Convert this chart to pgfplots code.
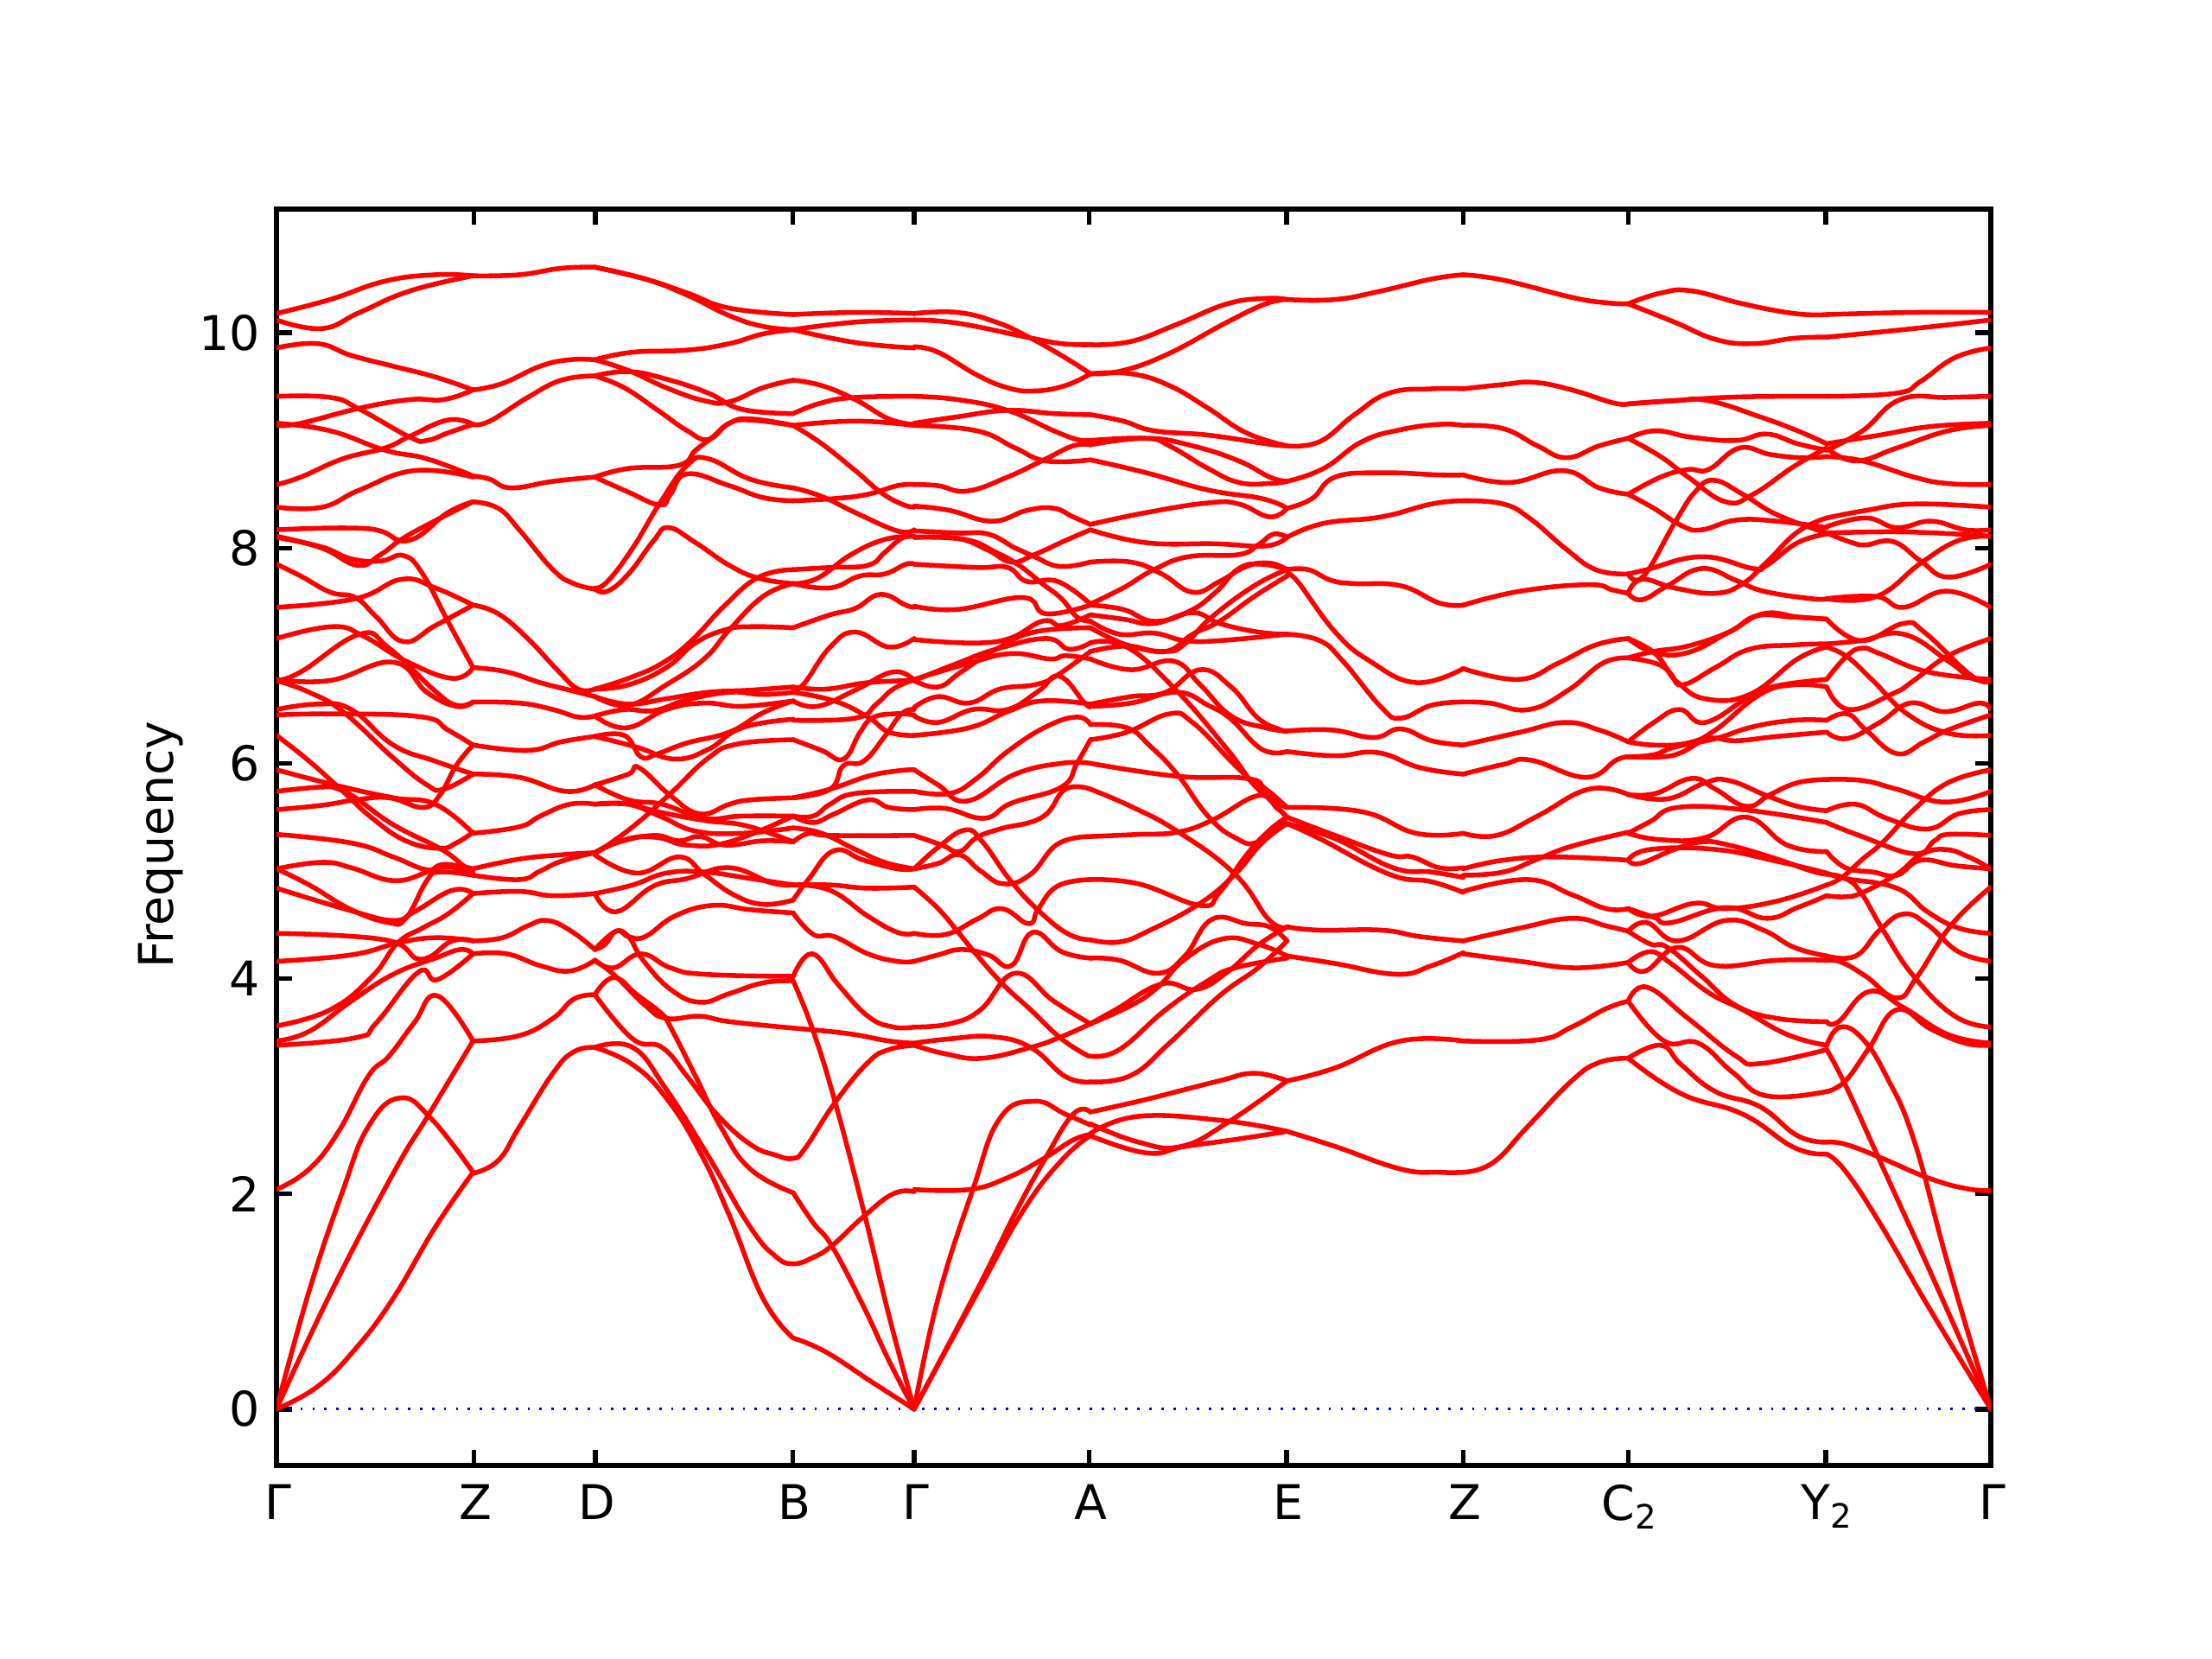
\documentclass[border=0pt]{standalone}
\usepackage{pgfplots}
\pgfplotsset{compat=1.18}
\usepackage{fontspec}
\setmainfont{DejaVu Sans}
\pgfplotsset{
 band/.style={red,line width=1pt,smooth,tension=0.75,no markers,line join=round,line cap=round},
 segA/.style={x filter/.expression={196+(x-22)*0.2977}},
 segB/.style={x filter/.expression={648+(x-38)*0.2732}},
 segC/.style={x filter/.expression={1154+(x-465)*0.2425}},
}
\newcommand{\A}[1]{\addplot[band,segA] coordinates {#1};}
\newcommand{\B}[1]{\addplot[band,segB] coordinates {#1};}
\newcommand{\C}[1]{\addplot[band,segC] coordinates {#1};}
\begin{document}
\begin{tikzpicture}
\useasboundingbox (0,0) rectangle (6.4in,4.8in);
\begin{axis}[
 at={(0.8in,0.56in)},anchor=south west,
 scale only axis,width=4.96in,height=3.635in,
 xmin=196,xmax=1411,ymin=-0.524,ymax=11.15,
 xtick={196,336,422,562,648,772,912,1037,1154,1294,1411},
 xticklabels={Γ,Z,D,B,Γ,A,E,Z,C\textsubscript{2},Y\textsubscript{2},Γ},
 ytick={0,2,4,6,8,10},
 tick align=inside,
 major tick length=3.2pt,
 tick style={black,line width=1pt},
 axis line style={black,line width=1pt},
 tick label style={font=\fontsize{10}{12}\selectfont},
 /pgf/number format/assume math mode=true,
 ylabel={Frequency},
 every axis y label/.style={at={(axis description cs:-0.0675,0.494)},rotate=90,anchor=center,font=\fontsize{10}{12}\selectfont},
 xticklabel style={yshift=-0.5pt,xshift=0.4pt},
]
\addplot[blue,line width=0.5pt,dotted,no markers] coordinates {(196,0)(1411,0)};
% Gamma - Z
\A{(22,10.18)(150,10.31)(280,10.48)(400,10.54)(490,10.53)}
\A{(22,10.12)(130,10.04)(220,10.19)(340,10.39)(490,10.53)}
\A{(22,9.86)(120,9.90)(200,9.79)(300,9.69)(400,9.59)(490,9.47)}
\A{(22,9.41)(150,9.40)(220,9.29)(340,9.03)(380,9.0)(430,9.07)(490,9.15)}
\A{(22,9.14)(80,9.16)(220,9.30)(340,9.38)(420,9.38)(490,9.47)}
\A{(22,9.16)(150,9.09)(280,8.91)(380,8.83)(490,8.67)}
\A{(22,8.59)(80,8.66)(180,8.83)(280,8.93)(340,9.04)(430,9.19)(490,9.15)}
\A{(22,8.38)(130,8.38)(220,8.54)(350,8.72)(490,8.66)}
\A{(22,8.17)(240,8.18)(335,8.07)(430,8.33)(490,8.43)}
\A{(22,8.11)(130,8.0)(215,7.84)(270,7.94)(340,8.13)(490,8.43)}
\A{(22,8.1)(130,8.01)(200,7.9)(270,7.88)(325,7.93)(370,7.76)(430,7.32)(490,6.89)}
\A{(22,7.85)(80,7.74)(150,7.59)(210,7.54)(260,7.36)(325,7.13)(400,7.28)(490,7.47)}
\A{(22,7.45)(210,7.53)(320,7.71)(400,7.63)(490,7.47)}
\A{(22,7.16)(155,7.27)(230,7.18)(330,6.95)(440,6.79)(490,6.89)}
\A{(22,6.77)(80,6.85)(220,7.2)(290,7.07)(400,6.67)(450,6.54)(490,6.57)}
\A{(22,6.78)(150,6.77)(300,6.94)(380,6.66)(450,6.53)(490,6.57)}
\A{(22,6.77)(100,6.66)(180,6.48)(300,6.05)(380,5.8)(420,5.76)(490,5.9)}
\A{(22,6.5)(120,6.55)(200,6.5)(300,6.17)(400,6.02)(490,5.9)}
\A{(22,6.45)(180,6.46)(370,6.43)(430,6.31)(490,6.17)}
\A{(22,6.26)(100,6.02)(180,5.74)(250,5.49)(330,5.28)(410,5.21)(450,5.26)(490,5.36)}
\A{(22,5.94)(170,5.79)(300,5.68)(400,5.62)(490,5.35)}
\A{(22,5.57)(130,5.61)(210,5.66)(290,5.68)(370,5.59)(410,5.7)(450,5.98)(490,6.17)}
\A{(22,5.74)(130,5.78)(170,5.76)(210,5.68)(300,5.43)(415,5.2)(470,5.04)(490,5.01)}
\A{(22,5.34)(200,5.26)(300,5.13)(380,5.01)(430,5.04)(490,4.98)}
\A{(22,5.02)(130,5.08)(200,5.03)(300,4.91)(380,4.99)(420,5.06)(490,5.02)}
\A{(22,5.02)(100,4.87)(200,4.64)(290,4.52)(330,4.56)(380,4.91)(410,4.99)(490,4.96)}
\A{(22,4.84)(200,4.63)(300,4.54)(350,4.62)(440,4.82)(490,4.79)}
\A{(22,4.42)(280,4.36)(365,4.18)(440,4.35)(490,4.35)}
\A{(22,4.16)(200,4.22)(310,4.33)(400,4.38)(490,4.35)}
\A{(22,3.56)(150,3.71)(250,4.02)(310,4.33)(370,4.47)(430,4.6)(490,4.79)}
\A{(22,3.42)(100,3.51)(200,3.79)(300,4.04)(400,4.19)(460,4.27)(490,4.23)}
\A{(22,3.38)(210,3.45)(260,3.59)(360,4.06)(405,3.99)(490,4.23)}
\A{(22,2.04)(100,2.23)(170,2.58)(240,3.09)(290,3.28)(350,3.59)(405,3.84)(490,3.42)}
\A{(22,0)(100,1.1)(180,2.03)(240,2.62)(315,2.89)(390,2.7)(490,2.2)}
\A{(22,0)(150,1.07)(300,2.19)(385,2.74)(490,3.42)}
\A{(22,0)(120,0.21)(210,0.56)(300,1.03)(400,1.69)(490,2.2)}
% Z - D
\A{(490,10.53)(600,10.54)(700,10.6)(780,10.61)}
\A{(490,9.47)(560,9.53)(650,9.69)(720,9.75)(780,9.75)}
\A{(490,9.15)(530,9.18)(620,9.4)(700,9.56)(780,9.6)}
\A{(490,8.67)(530,8.64)(580,8.56)(680,8.62)(780,8.66)}
\A{(490,8.43)(550,8.37)(600,8.17)(680,7.8)(730,7.67)(780,7.62)}
\A{(490,7.47)(550,7.39)(620,7.16)(690,6.87)(740,6.69)(780,6.69)}
\A{(490,6.89)(570,6.85)(650,6.75)(720,6.68)(780,6.62)}
\A{(490,6.57)(600,6.56)(680,6.5)(740,6.43)(780,6.44)}
\A{(490,6.17)(620,6.12)(700,6.2)(780,6.25)}
\A{(490,5.9)(600,5.87)(710,5.74)(780,5.8)}
\A{(490,5.35)(600,5.41)(650,5.51)(720,5.62)(780,5.62)}
\A{(490,5.02)(600,5.11)(700,5.15)(780,5.17)}
\A{(490,4.96)(600,4.92)(650,5.0)(700,5.09)(780,5.17)}
\A{(490,4.79)(600,4.81)(680,4.77)(780,4.79)}
\A{(490,4.35)(560,4.38)(620,4.49)(665,4.54)(720,4.45)(780,4.27)}
\A{(490,4.23)(570,4.23)(650,4.12)(720,4.07)(780,4.17)}
\A{(490,3.42)(600,3.47)(680,3.63)(730,3.81)(780,3.85)}
\A{(490,2.19)(550,2.31)(600,2.62)(680,3.12)(730,3.32)(780,3.36)}
% D - B
\A{(780,10.61)(900,10.5)(1000,10.37)(1100,10.23)(1252,10.17)}
\A{(780,10.61)(900,10.5)(1000,10.35)(1100,10.16)(1180,10.06)(1252,10.03)}
\A{(780,9.75)(870,9.82)(1000,9.84)(1100,9.9)(1180,9.99)(1252,10.03)}
\A{(780,9.75)(860,9.65)(950,9.49)(1040,9.37)(1100,9.36)(1180,9.49)(1252,9.56)}
\A{(780,9.6)(860,9.64)(950,9.57)(1050,9.44)(1130,9.29)(1252,9.25)}
\A{(780,9.6)(850,9.49)(930,9.28)(1000,9.09)(1050,9.01)(1100,9.16)(1150,9.2)(1252,9.14)}
\A{(780,8.66)(860,8.74)(980,8.77)(1020,8.91)(1060,9.03)(1100,9.16)(1150,9.19)(1252,9.14)}
\A{(780,8.66)(860,8.52)(935,8.4)(960,8.5)(1000,8.69)(1100,8.58)(1180,8.47)(1252,8.44)}
\A{(780,7.63)(810,7.69)(870,8.0)(935,8.42)(1000,8.77)(1050,8.83)(1150,8.64)(1252,8.56)}
\A{(780,7.62)(810,7.6)(860,7.76)(920,8.07)(955,8.19)(1020,8.05)(1100,7.84)(1170,7.72)(1252,7.67)}
\A{(780,6.69)(860,6.79)(940,6.93)(1010,7.14)(1090,7.47)(1170,7.73)(1252,7.8)}
\A{(780,6.69)(860,6.73)(950,6.89)(1020,7.12)(1090,7.24)(1150,7.27)(1252,7.26)}
\A{(780,6.62)(860,6.54)(950,6.73)(1040,6.97)(1100,7.24)(1180,7.55)(1252,7.67)}
\A{(780,6.62)(860,6.55)(950,6.6)(1050,6.66)(1150,6.68)(1252,6.71)}
\A{(780,6.44)(850,6.5)(920,6.49)(1000,6.59)(1100,6.66)(1180,6.64)(1252,6.66)}
\A{(780,6.44)(855,6.33)(950,6.5)(1040,6.56)(1130,6.53)(1252,6.58)}
\A{(780,6.25)(850,6.26)(890,6.06)(930,6.09)(1000,6.19)(1100,6.29)(1180,6.47)(1252,6.58)}
\A{(780,6.25)(880,6.15)(970,6.04)(1050,6.13)(1130,6.33)(1252,6.41)}
\A{(780,5.8)(860,5.9)(885,5.96)(960,5.7)(1030,5.53)(1100,5.62)(1150,5.66)(1252,5.68)}
\A{(780,5.8)(860,5.66)(940,5.62)(1040,5.49)(1130,5.51)(1252,5.51)}
\A{(780,5.62)(860,5.62)(930,5.55)(1040,5.47)(1140,5.42)(1252,5.27)}
\A{(780,5.62)(860,5.62)(940,5.5)(1020,5.37)(1130,5.35)(1252,5.4)}
\A{(780,5.16)(870,5.41)(960,5.72)(1050,6.05)(1120,6.18)(1252,6.22)}
\A{(780,5.17)(830,5.26)(920,5.33)(980,5.28)(1030,5.32)(1090,5.24)(1180,5.28)(1252,5.27)}
\A{(780,5.15)(880,4.98)(980,5.13)(1040,4.97)(1110,4.78)(1180,4.69)(1252,4.73)}
\A{(780,5.17)(860,5.3)(930,5.31)(1000,5.24)(1100,5.27)(1252,5.51)}
\A{(780,4.79)(830,4.62)(920,4.86)(1000,4.93)(1100,5.03)(1200,4.89)(1252,4.87)}
\A{(780,4.79)(870,4.87)(950,4.98)(1040,4.99)(1150,4.93)(1252,4.87)}
\A{(780,4.27)(830,4.44)(860,4.39)(900,4.39)(970,4.58)(1060,4.68)(1150,4.64)(1252,4.61)}
\A{(780,4.27)(805,4.32)(830,4.44)(860,4.39)(895,4.17)(960,3.9)(1030,3.78)(1100,3.86)(1180,3.96)(1252,3.98)}
\A{(780,4.17)(825,4.1)(890,4.23)(960,4.1)(1040,4.04)(1252,4.02)}
\A{(780,4.17)(830,4.02)(900,3.75)(950,3.63)(1030,3.65)(1100,3.6)(1252,3.54)}
\A{(780,3.85)(825,4.01)(880,3.85)(940,3.67)(960,3.55)(1020,3.09)(1080,2.62)(1150,2.23)(1252,2.01)}
\A{(780,3.85)(870,3.44)(940,3.36)(1000,3.09)(1070,2.74)(1150,2.46)(1210,2.36)(1252,2.33)(1280,2.42)(1352,2.85)(1430,3.22)(1480,3.34)(1540,3.38)}
\A{(780,3.36)(870,3.36)(950,2.97)(1050,2.35)(1150,1.69)(1210,1.42)(1252,1.35)(1300,1.41)(1345,1.52)(1420,1.79)(1490,2.0)(1540,2.02)}
\A{(780,3.36)(870,3.2)(950,2.89)(1030,2.39)(1100,1.8)(1180,1.03)(1252,0.66)}
% B - Gamma
\A{(1252,10.17)(1400,10.19)(1540,10.18)}
\A{(1252,10.03)(1400,10.1)(1540,10.12)}
\A{(1252,10.03)(1400,9.91)(1540,9.86)}
\A{(1252,9.56)(1320,9.51)(1400,9.38)(1480,9.2)(1540,9.15)}
\A{(1252,9.25)(1320,9.35)(1400,9.4)(1540,9.41)}
\A{(1252,9.14)(1400,9.18)(1540,9.14)}
\A{(1252,9.14)(1320,8.97)(1400,8.72)(1460,8.52)(1510,8.41)(1540,8.38)}
\A{(1252,8.56)(1320,8.48)(1400,8.33)(1500,8.16)(1540,8.17)}
\A{(1252,8.44)(1350,8.46)(1430,8.5)(1500,8.58)(1540,8.59)}
\A{(1252,7.8)(1340,7.82)(1430,7.84)(1470,7.96)(1510,8.09)(1540,8.11)}
\A{(1252,7.67)(1310,7.72)(1390,7.94)(1470,8.08)(1540,8.11)}
\A{(1252,7.67)(1340,7.63)(1410,7.74)(1470,7.76)(1520,7.85)(1540,7.85)}
\A{(1252,7.26)(1340,7.38)(1400,7.44)(1460,7.57)(1520,7.47)(1540,7.45)}
\A{(1252,6.67)(1280,6.75)(1340,7.08)(1400,7.22)(1480,7.08)(1540,7.16)}
\A{(1252,6.71)(1330,6.69)(1430,6.75)(1540,6.77)}
\A{(1252,6.58)(1310,6.53)(1400,6.68)(1490,6.85)(1540,6.77)}
\A{(1252,6.66)(1350,6.58)(1430,6.43)(1480,6.29)(1540,6.26)}
\A{(1252,6.4)(1400,6.42)(1450,6.55)(1490,6.69)(1540,6.78)}
\A{(1252,6.22)(1320,6.12)(1372,6.04)(1410,6.28)(1440,6.42)(1490,6.46)(1540,6.45)}
\A{(1252,5.68)(1340,5.76)(1372,5.98)(1420,6.02)(1470,6.25)(1510,6.46)(1540,6.5)}
\A{(1252,5.68)(1340,5.76)(1430,5.88)(1500,5.93)(1540,5.94)}
\A{(1252,5.51)(1300,5.51)(1340,5.62)(1400,5.72)(1540,5.74)}
\A{(1252,5.51)(1300,5.45)(1350,5.53)(1430,5.66)(1480,5.59)(1540,5.57)}
\A{(1252,5.27)(1290,5.35)(1340,5.33)(1540,5.33)}
\A{(1252,5.4)(1320,5.35)(1400,5.2)(1470,5.08)(1540,5.02)}
\A{(1252,4.73)(1290,4.93)(1350,5.19)(1420,5.1)(1500,5.02)(1540,5.02)}
\A{(1252,4.87)(1340,4.87)(1430,4.84)(1540,4.85)}
\A{(1252,4.61)(1300,4.41)(1350,4.39)(1430,4.23)(1500,4.16)(1540,4.16)}
\A{(1252,4.87)(1340,4.82)(1430,4.58)(1500,4.43)(1540,4.42)}
\A{(1252,4.02)(1298,4.23)(1360,3.94)(1430,3.65)(1490,3.55)(1540,3.55)}
\A{(1252,3.98)(1300,3.51)(1352,2.85)(1420,1.84)(1480,0.87)(1540,0)}
\A{(1252,3.54)(1380,3.49)(1480,3.42)(1540,3.4)}
\A{(1252,2.01)(1300,1.73)(1345,1.51)(1420,0.95)(1480,0.45)(1540,0)}
\A{(1252,0.66)(1330,0.53)(1440,0.25)(1540,0)}
% Gamma - A
\B{(38,10.18)(150,10.19)(250,10.1)(330,9.97)(420,9.79)(495,9.62)}
\B{(38,10.12)(150,10.09)(330,9.96)(420,9.9)(495,9.89)}
\B{(38,9.87)(100,9.82)(200,9.61)(280,9.49)(350,9.46)(430,9.51)(495,9.62)}
\B{(38,9.41)(150,9.38)(280,9.28)(400,9.09)(460,9.01)(495,9)}
\B{(38,9.16)(150,9.22)(280,9.28)(400,9.25)(495,9.24)}
\B{(38,9.14)(200,9.09)(300,8.93)(380,8.81)(495,8.82)}
\B{(38,8.59)(100,8.58)(175,8.53)(280,8.66)(380,8.83)(450,8.95)(495,8.96)}
\B{(38,8.39)(130,8.35)(240,8.25)(330,8.35)(400,8.37)(450,8.29)(495,8.22)}
\B{(38,8.16)(150,8.14)(230,8.13)(300,8.0)(350,7.92)(415,7.83)(495,7.87)}
\B{(38,8.1)(150,8.09)(230,7.98)(290,7.87)(350,7.94)(430,8.07)(495,8.17)}
\B{(38,8.1)(170,8.08)(250,7.96)(310,7.84)(370,7.67)(420,7.53)(460,7.36)(495,7.32)}
\B{(38,7.85)(200,7.82)(280,7.82)(330,7.69)(410,7.69)(495,7.48)}
\B{(38,7.46)(150,7.43)(320,7.54)(380,7.39)(495,7.47)}
\B{(38,7.15)(250,7.13)(370,7.32)(420,7.28)(495,7.38)}
\B{(38,6.77)(100,6.71)(160,6.85)(250,7.06)(350,7.22)(495,7.26)}
\B{(38,6.77)(150,6.93)(250,7.06)(380,7.16)(440,7.06)(495,7.12)}
\B{(38,6.78)(180,6.93)(290,7.02)(390,6.97)(430,7.0)(495,6.97)}
\B{(38,6.52)(100,6.62)(180,6.56)(260,6.69)(350,6.73)(405,6.81)(495,7.04)}
\B{(38,6.44)(100,6.38)(190,6.5)(280,6.5)(360,6.67)(415,6.81)(480,6.56)(495,6.53)}
\B{(38,6.26)(180,6.33)(280,6.48)(370,6.58)(495,6.55)}
\B{(38,5.94)(100,5.8)(175,5.65)(300,5.9)(420,6.0)(495,6.0)}
\B{(38,5.74)(130,5.72)(200,5.86)(280,6.11)(380,6.34)(460,6.43)(495,6.36)}
\B{(38,5.57)(120,5.58)(220,5.49)(290,5.63)(420,5.78)(460,6.0)(495,6.22)}
\B{(38,5.33)(110,5.24)(155,5.18)(200,5.31)(260,5.39)(370,5.5)(430,5.76)(495,5.76)}
\B{(38,5.02)(100,5.22)(170,5.38)(215,5.27)(290,4.9)(370,4.6)(440,4.41)(495,4.36)}
\B{(38,5.02)(100,5.07)(155,5.15)(210,5.0)(270,4.88)(340,4.97)(410,5.25)(495,5.32)}
\B{(38,4.85)(100,4.65)(150,4.44)(200,4.22)(270,3.94)(340,3.71)(420,3.44)(490,3.28)}
\B{(38,4.42)(120,4.41)(200,4.55)(265,4.65)(335,4.51)(360,4.65)(410,4.86)(495,4.92)}
\B{(38,4.16)(100,4.22)(160,4.27)(230,4.22)(290,4.12)(345,4.43)(420,4.25)(495,4.19)}
\B{(38,3.55)(130,3.58)(210,3.71)(300,4.05)(400,3.79)(495,3.58)}
\B{(38,3.4)(130,3.44)(240,3.46)(340,3.36)(430,3.09)(495,3.04)}
\B{(38,3.38)(120,3.3)(215,3.26)(340,3.36)(420,3.46)(495,3.58)}
\B{(38,2.04)(180,2.04)(280,2.15)(375,2.33)(450,2.5)(495,2.55)}
\B{(38,0)(100,1.03)(190,2.04)(260,2.7)(350,2.86)(430,2.74)(495,2.64)}
\B{(38,0)(200,1.1)(300,1.82)(375,2.31)(450,2.74)(495,2.76)}
\B{(38,0)(200,1.07)(320,1.84)(420,2.31)(495,2.54)}
% A - E
\B{(495,9.89)(600,9.92)(720,10.08)(850,10.27)(950,10.32)(1005,10.31)}
\B{(495,9.62)(580,9.65)(700,9.81)(850,10.1)(950,10.27)(1005,10.31)}
\B{(495,9.62)(600,9.62)(700,9.51)(800,9.3)(900,9.07)(1005,8.95)}
\B{(495,9.24)(580,9.18)(660,9.09)(800,9.05)(950,8.97)(1005,8.95)}
\B{(495,9)(640,9.02)(700,8.95)(800,8.74)(880,8.61)(960,8.6)(1005,8.62)}
\B{(495,8.96)(640,9.02)(760,8.95)(880,8.81)(960,8.66)(1005,8.62)}
\B{(495,8.82)(640,8.7)(800,8.54)(940,8.46)(1005,8.37)}
\B{(495,8.22)(640,8.33)(800,8.42)(880,8.41)(960,8.29)(1005,8.37)}
\B{(495,8.17)(640,8.05)(820,8.04)(950,8.02)(1005,8.1)}
\B{(495,7.87)(600,7.87)(680,7.76)(760,7.59)(830,7.69)(900,7.83)(960,7.86)(1005,7.8)}
\B{(495,7.48)(580,7.63)(660,7.8)(750,7.92)(880,7.94)(930,8.03)(970,8.13)(1005,8.1)}
\B{(495,7.47)(580,7.43)(660,7.32)(750,7.41)(820,7.59)(880,7.81)(940,7.85)(1005,7.8)}
\B{(495,7.38)(580,7.34)(660,7.3)(760,7.4)(830,7.3)(930,7.22)(1005,7.2)}
\B{(495,7.32)(570,7.2)(660,7.21)(740,7.14)(830,7.14)(1005,7.2)}
\B{(495,7.26)(590,7.1)(690,7.04)(740,7.11)(810,7.36)(920,7.65)(1005,7.8)}
\B{(495,7.12)(590,7.08)(720,6.67)(850,6.13)(930,5.76)(1005,5.59)}
\B{(495,7.04)(590,7.09)(690,7.04)(760,7.2)(830,7.32)(920,7.55)(1005,7.74)}
\B{(495,6.97)(600,6.87)(710,6.95)(780,6.73)(860,6.44)(950,6.33)(1005,6.3)}
\B{(495,6.55)(600,6.62)(690,6.66)(780,6.87)(860,6.71)(930,6.42)(990,6.31)(1005,6.3)}
\B{(495,6.53)(600,6.56)(720,6.66)(800,6.54)(860,6.41)(940,6.13)(1005,6.11)}
\B{(495,6.36)(590,6.33)(650,6.16)(720,5.9)(800,5.51)(870,5.31)(930,5.27)(1005,5.5)}
\B{(495,6.22)(590,6.29)(700,6.46)(760,6.38)(860,6.02)(950,5.7)(1005,5.5)}
\B{(495,6)(720,5.88)(900,5.86)(950,5.76)(1005,5.59)}
\B{(495,5.76)(600,5.6)(720,5.37)(870,4.97)(960,4.54)(1010,4.48)}
\B{(495,5.32)(620,5.34)(720,5.36)(810,5.47)(930,5.7)(980,5.58)(1005,5.5)}
\B{(495,4.92)(620,4.88)(780,4.68)(830,4.8)(900,5.15)(960,5.38)(1005,5.5)}
\B{(495,4.36)(570,4.34)(650,4.45)(780,4.7)(870,4.97)(940,5.26)(1005,5.44)}
\B{(495,4.19)(570,4.17)(670,4.05)(740,4.21)(810,4.55)(900,4.51)(960,4.48)(1005,4.35)}
\B{(495,3.58)(560,3.71)(680,3.95)(770,3.9)(850,4.06)(930,4.31)(1005,4.48)}
\B{(495,3.58)(600,3.75)(670,3.92)(740,4.18)(840,4.37)(930,4.32)(1005,4.21)}
\B{(495,3.28)(570,3.34)(690,3.71)(800,3.98)(870,4.1)(1005,4.19)}
\B{(495,3.04)(600,3.1)(700,3.4)(830,3.84)(930,4.1)(1005,4.35)}
\B{(495,2.76)(620,2.86)(720,2.95)(830,3.05)(920,3.12)(1005,3.05)}
\B{(495,2.65)(620,2.48)(730,2.44)(850,2.66)(1005,3.05)}
\B{(495,2.56)(620,2.72)(840,2.68)(1005,2.58)}
\B{(495,2.54)(640,2.38)(740,2.44)(880,2.51)(1005,2.58)}
% E - Z
\B{(1005,10.31)(1130,10.31)(1250,10.39)(1380,10.5)(1462,10.54)}
\B{(1005,8.95)(1090,8.99)(1180,9.24)(1270,9.44)(1380,9.48)(1462,9.48)}
\B{(1005,8.62)(1100,8.74)(1200,8.99)(1300,9.1)(1400,9.15)(1462,9.14)}
\B{(1005,8.37)(1070,8.46)(1130,8.66)(1250,8.7)(1400,8.68)(1462,8.68)}
\B{(1005,8.1)(1100,8.23)(1250,8.29)(1380,8.41)(1462,8.44)}
\B{(1005,7.8)(1060,7.8)(1120,7.7)(1180,7.67)(1300,7.65)(1400,7.49)(1462,7.47)}
\B{(1005,7.74)(1030,7.7)(1130,7.22)(1220,6.95)(1340,6.75)(1462,6.88)}
\B{(1005,7.2)(1090,7.14)(1150,6.95)(1250,6.52)(1300,6.42)(1380,6.54)(1462,6.57)}
\B{(1005,6.3)(1120,6.31)(1230,6.24)(1300,6.32)(1380,6.21)(1462,6.17)}
\B{(1005,6.11)(1130,6.07)(1240,6.1)(1350,5.96)(1462,5.9)}
\B{(1005,5.59)(1200,5.55)(1340,5.35)(1462,5.35)}
\B{(1005,5.5)(1130,5.33)(1270,5.15)(1330,5.13)(1400,5.03)(1462,5.03)}
\B{(1005,5.44)(1130,5.3)(1280,5.03)(1380,4.99)(1462,4.94)}
\B{(1005,5.44)(1090,5.3)(1270,4.97)(1380,4.9)(1462,4.8)}
\B{(1005,4.48)(1090,4.45)(1250,4.45)(1350,4.39)(1462,4.35)}
\B{(1005,4.21)(1130,4.14)(1290,4.04)(1380,4.12)(1462,4.24)}
\B{(1005,3.05)(1130,3.17)(1300,3.42)(1462,3.42)}
\B{(1005,2.58)(1130,2.44)(1300,2.23)(1400,2.2)(1462,2.2)}
% Z - C2
\C{(-17,10.54)(100,10.49)(300,10.33)(400,10.28)(465,10.27)}
\C{(-17,9.48)(100,9.52)(190,9.54)(300,9.47)(420,9.35)(465,9.34)}
\C{(-17,9.14)(100,9.11)(200,8.95)(285,8.84)(380,8.95)(465,9.02)}
\C{(-17,8.68)(120,8.61)(275,8.72)(380,8.56)(465,8.5)}
\C{(-17,8.44)(100,8.41)(180,8.27)(280,8.0)(370,7.8)(465,7.76)}
\C{(-17,7.47)(150,7.6)(350,7.66)(420,7.61)(465,7.58)}
\C{(-17,6.88)(145,6.78)(260,6.93)(370,7.1)(465,7.16)}
\C{(-17,6.57)(60,6.56)(175,6.5)(290,6.68)(390,6.93)(465,6.98)}
\C{(-17,6.17)(150,6.29)(280,6.38)(380,6.31)(465,6.2)}
\C{(-17,5.9)(100,5.99)(180,6.03)(340,5.87)(430,6.03)(465,6.06)}
\C{(-17,5.35)(80,5.33)(200,5.51)(350,5.76)(465,5.71)}
\C{(-17,5.02)(100,5.1)(250,5.13)(465,5.1)}
\C{(-17,4.96)(100,4.99)(200,5.11)(300,5.23)(465,5.36)}
\C{(-17,4.81)(170,4.92)(300,4.78)(400,4.65)(465,4.65)}
\C{(-17,4.35)(150,4.47)(300,4.56)(400,4.49)(465,4.44)}
\C{(-17,4.23)(150,4.16)(310,4.1)(465,4.15)}
\C{(-17,3.42)(200,3.43)(300,3.55)(400,3.72)(465,3.79)}
\C{(-17,2.2)(70,2.29)(170,2.62)(300,3.05)(380,3.22)(465,3.26)}
% C2 - Y2
\C{(465,10.27)(560,10.37)(650,10.39)(800,10.27)(950,10.18)(1045,10.17)}
\C{(465,10.27)(600,10.1)(720,9.94)(830,9.9)(950,9.95)(1045,9.96)}
\C{(465,9.34)(600,9.37)(750,9.4)(900,9.41)(1045,9.41)}
\C{(465,9.34)(600,9.37)(700,9.37)(850,9.22)(960,9.09)(1045,8.97)}
\C{(465,9.02)(545,9.09)(650,9.03)(780,9)(870,9.06)(960,8.97)(1045,8.91)}
\C{(465,9.02)(560,8.85)(640,8.66)(750,8.43)(830,8.5)(950,8.76)(1045,8.93)}
\C{(465,8.5)(560,8.66)(640,8.73)(700,8.73)(790,8.93)(880,8.87)(970,8.84)(1045,8.85)}
\C{(465,8.5)(540,8.37)(620,8.21)(680,8.17)(780,8.26)(900,8.25)(1045,8.19)}
\C{(465,7.76)(520,7.8)(680,7.92)(830,7.81)(870,7.84)(960,8.05)(1045,8.13)}
\C{(465,7.76)(510,7.74)(600,8.23)(660,8.52)(715,8.63)(800,8.5)(900,8.31)(1045,8.14)}
\C{(465,7.58)(505,7.71)(600,7.63)(720,7.58)(800,7.67)(870,7.87)(960,8.15)(1045,8.28)}
\C{(465,7.58)(505,7.52)(580,7.65)(680,7.81)(780,7.7)(860,7.6)(1000,7.53)(1045,7.53)}
\C{(465,7.16)(540,7.03)(590,6.83)(625,6.73)(720,6.89)(820,7.06)(950,7.1)(1045,7.11)}
\C{(465,7.16)(540,7.03)(640,7.03)(760,7.22)(860,7.39)(960,7.36)(1045,7.34)}
\C{(465,6.98)(540,7.04)(640,7.09)(760,7.22)(840,7.37)(940,7.36)(1045,7.34)}
\C{(465,6.98)(560,6.91)(610,6.75)(690,6.6)(820,6.64)(960,6.97)(1045,7.08)}
\C{(465,6.2)(540,6.38)(615,6.5)(690,6.38)(820,6.62)(900,6.72)(1045,6.78)}
\C{(465,6.2)(540,6.17)(640,6.19)(720,6.31)(850,6.64)(950,6.73)(1045,6.71)}
\C{(465,6.06)(560,6.06)(620,6.1)(700,6.23)(780,6.21)(900,6.25)(1045,6.29)}
\C{(465,6.06)(540,6.08)(600,6.15)(720,6.23)(830,6.34)(950,6.4)(1045,6.4)}
\C{(465,5.71)(580,5.67)(690,5.82)(760,5.84)(870,5.7)(960,5.6)(1045,5.56)}
\C{(465,5.71)(545,5.72)(650,5.86)(720,5.76)(810,5.6)(880,5.71)(960,5.82)(1045,5.85)}
\C{(465,5.35)(530,5.46)(610,5.59)(800,5.57)(1045,5.45)}
\C{(465,5.35)(560,5.29)(690,5.31)(810,5.5)(930,5.24)(1045,5.18)}
\C{(465,5.1)(530,5.2)(720,5.2)(900,5.09)(1045,4.98)}
\C{(465,5.1)(500,5.07)(600,5.2)(680,5.27)(760,5.24)(900,5.11)(1000,5.0)(1045,4.97)}
\C{(465,4.65)(540,4.57)(590,4.52)(750,4.66)(870,4.56)(960,4.66)(1045,4.77)}
\C{(465,4.65)(535,4.58)(660,4.7)(750,4.65)(900,4.72)(1045,4.87)}
\C{(465,4.44)(520,4.52)(610,4.35)(750,4.54)(860,4.45)(950,4.29)(1045,4.21)}
\C{(465,4.44)(530,4.32)(580,4.29)(680,4.02)(780,3.75)(900,3.63)(1045,3.6)}
\C{(465,4.15)(530,4.25)(590,4.14)(700,3.87)(800,3.71)(930,3.48)(1045,3.38)}
\C{(465,4.15)(515,4.07)(610,4.29)(720,4.12)(900,4.17)(1045,4.17)}
\C{(465,3.79)(520,3.92)(640,3.63)(780,3.28)(850,3.21)(1045,3.34)}
\C{(465,3.79)(570,3.42)(670,3.4)(770,3.13)(870,2.91)(1045,2.95)}
\C{(465,3.26)(560,3.38)(620,3.2)(720,2.95)(850,2.81)(960,2.54)(1045,2.48)}
\C{(465,3.26)(620,2.93)(800,2.74)(950,2.43)(1045,2.37)}
% Y2 - Gamma
\C{(1045,10.17)(1300,10.19)(1525,10.19)}
\C{(1045,9.96)(1300,10.04)(1525,10.12)}
\C{(1045,9.41)(1250,9.44)(1320,9.55)(1420,9.77)(1525,9.86)}
\C{(1045,8.91)(1150,9.09)(1260,9.38)(1400,9.4)(1525,9.41)}
\C{(1045,8.97)(1200,9.05)(1350,9.13)(1525,9.16)}
\C{(1045,8.93)(1130,8.81)(1250,8.93)(1400,9.09)(1525,9.14)}
\C{(1045,8.85)(1150,8.81)(1300,8.66)(1400,8.6)(1525,8.59)}
\C{(1045,8.28)(1160,8.35)(1300,8.41)(1525,8.38)}
\C{(1045,8.2)(1160,8.28)(1250,8.19)(1350,8.25)(1450,8.17)(1525,8.17)}
\C{(1045,8.14)(1120,8.05)(1160,8.03)(1240,8.06)(1320,7.88)(1400,7.73)(1525,7.85)}
\C{(1045,8.14)(1280,8.15)(1525,8.11)}
\C{(1045,7.53)(1190,7.55)(1320,7.86)(1430,8.07)(1525,8.11)}
\C{(1045,7.53)(1190,7.55)(1270,7.45)(1395,7.6)(1525,7.45)}
\C{(1045,7.34)(1145,7.14)(1270,7.3)(1330,7.22)(1470,6.81)(1525,6.77)}
\C{(1045,7.11)(1145,7.14)(1270,7.2)(1400,6.95)(1470,6.79)(1525,6.77)}
\C{(1045,7.08)(1105,6.99)(1180,6.77)(1280,6.46)(1400,6.28)(1525,6.26)}
\C{(1045,6.78)(1105,7.0)(1150,7.07)(1200,7.02)(1340,6.85)(1525,6.78)}
\C{(1045,6.71)(1110,6.5)(1240,6.65)(1300,6.77)(1400,7.0)(1525,7.16)}
\C{(1045,6.4)(1105,6.46)(1160,6.31)(1250,6.09)(1330,6.2)(1400,6.31)(1525,6.45)}
\C{(1045,6.29)(1105,6.23)(1200,6.38)(1290,6.56)(1390,6.48)(1490,6.56)(1525,6.5)}
\C{(1045,5.85)(1150,5.84)(1250,5.76)(1390,5.64)(1525,5.74)}
\C{(1045,5.56)(1130,5.62)(1220,5.49)(1340,5.39)(1430,5.53)(1525,5.57)}
\C{(1045,5.45)(1140,5.33)(1300,5.16)(1360,5.28)(1400,5.34)(1525,5.33)}
\C{(1045,5.18)(1100,5.03)(1180,4.99)(1250,4.96)(1320,5.1)(1420,5.05)(1525,5.02)}
\C{(1045,4.87)(1090,4.94)(1150,5.11)(1210,5.27)(1300,5.57)(1400,5.82)(1525,5.94)}
\C{(1045,4.98)(1100,4.93)(1250,4.84)(1340,4.62)(1430,4.47)(1525,4.42)}
\C{(1045,4.97)(1100,4.93)(1145,4.8)(1210,4.45)(1300,4.02)(1420,3.65)(1525,3.55)}
\C{(1045,4.77)(1100,4.76)(1150,4.8)(1250,4.97)(1320,5.15)(1390,5.2)(1460,5.13)(1525,5.02)}
\C{(1045,4.21)(1130,4.21)(1200,4.45)(1270,4.6)(1340,4.5)(1430,4.25)(1525,4.16)}
\C{(1045,4.17)(1090,4.15)(1160,4.02)(1250,3.82)(1310,4.02)(1410,4.5)(1525,4.85)}
\C{(1045,3.6)(1080,3.6)(1170,3.88)(1270,3.73)(1400,3.48)(1525,3.4)}
\C{(1045,3.38)(1085,3.55)(1150,3.44)(1220,3.09)(1300,2.5)(1400,1.34)(1525,0)}
\C{(1045,3.34)(1100,3.01)(1200,2.31)(1350,1.26)(1525,0)}
\C{(1045,2.95)(1100,3.05)(1170,3.36)(1250,3.71)(1350,3.53)(1450,3.4)(1525,3.38)}
\C{(1045,2.48)(1100,2.46)(1200,2.34)(1340,2.15)(1450,2.05)(1525,2.03)}
\C{(1045,2.37)(1100,2.21)(1200,1.73)(1350,0.91)(1525,0)}
\end{axis}
\end{tikzpicture}
\end{document}
